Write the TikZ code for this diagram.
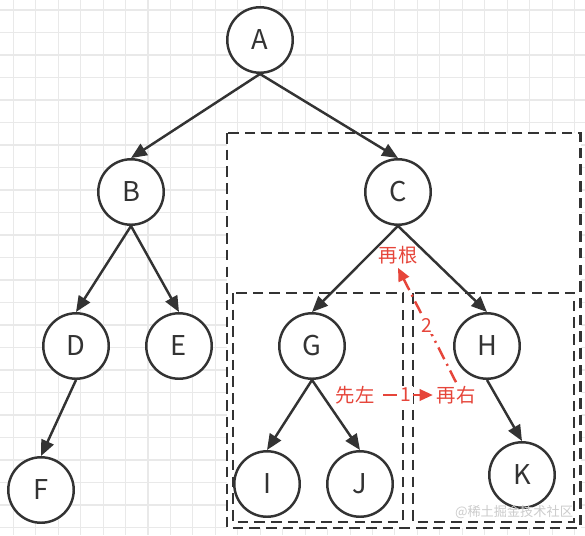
\documentclass[tikz,border=0pt]{standalone}
\usepackage{fontspec}
\setmainfont{Noto Sans CJK SC}
\usepackage{tikz}
\usetikzlibrary{arrows.meta}

\definecolor{linegray}{HTML}{333333}
\definecolor{gridgray}{HTML}{E9E9E9}
\definecolor{notered}{HTML}{E6453A}

\begin{document}
\begin{tikzpicture}[x=0.02cm, y=-0.02cm,
                vertex/.style={circle, draw=linegray, line width=1.4pt, fill=white, minimum size=1.31cm, inner sep=0pt, text=linegray, font=\fontsize{15.5}{18}\selectfont},
                edge/.style={draw=linegray, line width=1.4pt, -{Triangle[length=9pt,width=7.5pt]}},
                group/.style={draw=linegray, line width=1.6pt, dash pattern=on 6pt off 3.5pt},
                note/.style={text=notered, inner sep=2pt, font=\fontsize{11}{13}\selectfont},
                order/.style={draw=notered, line width=1.4pt, dash pattern=on 7.5pt off 3pt on 1.2pt off 3pt, -{Triangle[length=7.5pt,width=6.5pt]}},
                num/.style={text=notered, fill=white, inner sep=1pt, font=\fontsize{11}{13}\selectfont}
            ]
                \useasboundingbox (0,0) rectangle (585,535);

                % Grid
                \foreach \gx in {0,...,25} {
                    \draw[gridgray, line width=0.6pt] ({13.3+22.45*\gx},0) -- ++(0,535);
                }
                \foreach \gy in {0,...,23} {
                    \draw[gridgray, line width=0.6pt] (0,{10+22.5*\gy}) -- ++(585,0);
                }

                % Subtree boxes
                \draw[group, fill=white] (227,133) rectangle (580.5,528);
                \draw[group] (233,293) rectangle (403,522);
                \draw[group] (413,293) rectangle (574,522);

                % Nodes
                \node[vertex] (a) at (260,40) {A};
                \node[vertex] (b) at (131,192) {B};
                \node[vertex] (c) at (398,192) {C};
                \node[vertex] (d) at (76,346) {D};
                \node[vertex] (e) at (179,346) {E};
                \node[vertex] (f) at (41,490) {F};
                \node[vertex] (g) at (312,346) {G};
                \node[vertex] (h) at (487,346) {H};
                \node[vertex] (i) at (267,484) {I};
                \node[vertex] (j) at (360,484) {J};
                \node[vertex] (k) at (522,475) {K};

                % Paths: tree edges
                \draw[edge] (a.south) -- (b.north);
                \draw[edge] (a.south) -- (c.north);
                \draw[edge] (b.south) -- (d.north);
                \draw[edge] (b.south) -- (e.north);
                \draw[edge] (d.south) -- (f.north);
                \draw[edge] (c.south) -- (g.north);
                \draw[edge] (c.south) -- (h.north);
                \draw[edge] (g.south) -- (i.north);
                \draw[edge] (g.south) -- (j.north);
                \draw[edge] (h.south) -- (k.north);

                % Notes: visiting order
                \node[note] (gen) at (398,255) {再根};
                \node[note] (zuo) at (355,395) {先左};
                \node[note] (you) at (456,395) {再右};

                \draw[order, shorten <=3pt] (zuo) -- node[num] {1} (you);
                \draw[order] (you.north) -- node[num] {2} (gen.south);

                % Watermark
                \node[text=gray!40, font=\fontsize{7.5}{9}\selectfont] (wm) at (514,512) {@稀土掘金技术社区};
            \end{tikzpicture}
\end{document}
